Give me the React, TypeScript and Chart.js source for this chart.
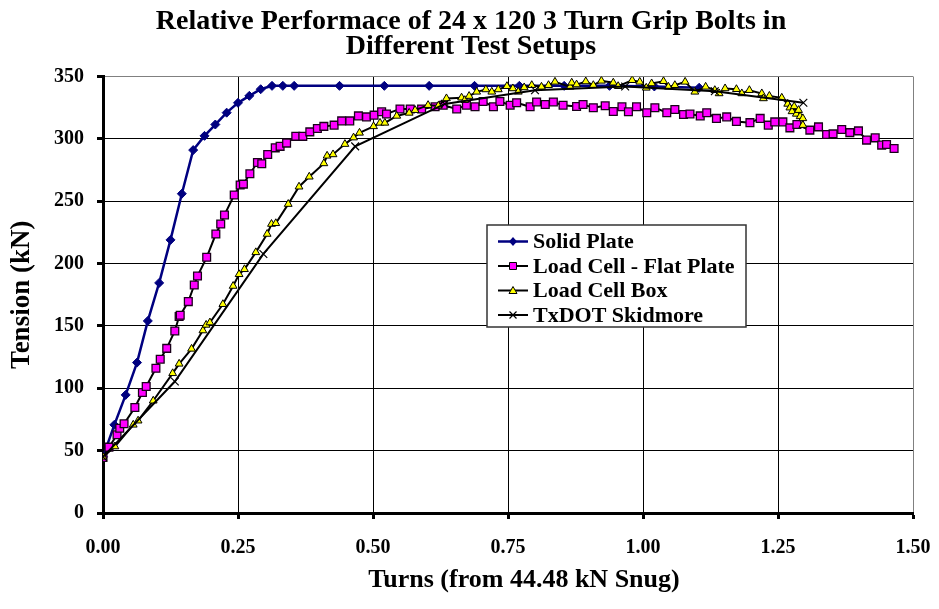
import React, { useEffect, useRef } from "react";
import { Chart, registerables } from "chart.js";

Chart.register(...registerables);

const FONT = "'Liberation Serif', 'Times New Roman', serif";

const chartTitle = [
  "Relative Performace of 24 x 120 3 Turn Grip Bolts in",
  "Different Test Setups",
];
const xAxisTitle = "Turns (from 44.48 kN Snug)";
const yAxisTitle = "Tension (kN)";

const seriesNames = [
  "Solid Plate",
  "Load Cell - Flat Plate",
  "Load Cell Box",
  "TxDOT Skidmore",
];

// Solid Plate
const solidTurns = [
  0, 0.021, 0.042, 0.063, 0.083, 0.104, 0.125, 0.146, 0.167, 0.188, 0.208,
  0.229, 0.25, 0.271, 0.292, 0.313, 0.333, 0.354, 0.438, 0.521, 0.604, 0.688,
  0.771, 0.854, 0.938, 1.021, 1.104,
];
const solidTension = [
  45, 70.7, 94.7, 120.6, 154, 184.5, 219, 256, 291, 302.4, 311.5, 321, 328.9,
  334.5, 339.8, 342.5, 342.5, 342.5, 342.5, 342.5, 342.5, 342.5, 342.5, 342.5,
  342.5, 342, 341,
];

// Load Cell - Flat Plate
const flatTurns = [
  0, 0.011, 0.026, 0.031, 0.039, 0.059, 0.073, 0.08, 0.098, 0.106, 0.118,
  0.133, 0.141, 0.143, 0.158, 0.169, 0.175, 0.192, 0.209, 0.218, 0.225, 0.243,
  0.254, 0.26, 0.272, 0.286, 0.294, 0.305, 0.319, 0.328, 0.34, 0.357, 0.37,
  0.383, 0.397, 0.409, 0.428, 0.442, 0.457, 0.473, 0.488, 0.502, 0.516, 0.525,
  0.55, 0.569, 0.59, 0.615, 0.63, 0.655, 0.673, 0.689, 0.704, 0.723, 0.735,
  0.754, 0.766, 0.791, 0.803, 0.819, 0.834, 0.852, 0.877, 0.889, 0.908, 0.93,
  0.945, 0.961, 0.973, 0.988, 1.007, 1.022, 1.044, 1.059, 1.075, 1.087, 1.106,
  1.118, 1.136, 1.155, 1.173, 1.198, 1.217, 1.232, 1.244, 1.259, 1.272, 1.285,
  1.309, 1.325, 1.34, 1.352, 1.368, 1.383, 1.399, 1.414, 1.43, 1.442, 1.451,
  1.465,
];
const flatTension = [
  44.5, 52.8, 62.7, 68, 71.5, 84.6, 96.6, 101.4, 116, 123.3, 132, 146, 157.5,
  158.5, 169.5, 182.8, 190, 205, 223.7, 231.7, 239, 255, 263, 263.7, 272, 281,
  280, 287.5, 292.8, 294, 296.6, 302, 302, 305.6, 308.3, 310, 311, 314.4, 314.4,
  318.4, 317.6, 319, 321.7, 320, 324, 324, 324, 325.7, 327, 324, 327, 325.7,
  330, 325.7, 330, 327, 329, 325.7, 329.6, 327.5, 329.6, 327, 326, 327.5, 325,
  326.5, 322, 325.7, 321.7, 325.7, 321, 325, 321, 323.5, 319.5, 320, 318.4,
  321, 316.4, 317.6, 314, 313, 316.4, 311, 313.6, 313.6, 308.8, 311.5, 307,
  309.6, 303.5, 304, 307.5, 305, 306.4, 299, 300.8, 295, 295.5, 292.3,
];

// Load Cell Box
const boxTurns = [
  0, 0.022, 0.056, 0.065, 0.093, 0.129, 0.141, 0.164, 0.185, 0.191, 0.198,
  0.222, 0.241, 0.252, 0.262, 0.283, 0.304, 0.312, 0.32, 0.343, 0.363, 0.382,
  0.409, 0.415, 0.426, 0.448, 0.464, 0.475, 0.501, 0.513, 0.522, 0.544, 0.567,
  0.578, 0.602, 0.621, 0.636, 0.664, 0.67, 0.678, 0.692, 0.709, 0.72, 0.732,
  0.748, 0.759, 0.769, 0.78, 0.794, 0.812, 0.825, 0.837, 0.865, 0.868, 0.877,
  0.894, 0.908, 0.923, 0.945, 0.954, 0.98, 0.994, 1.006, 1.016, 1.038, 1.047,
  1.059, 1.078, 1.096, 1.116, 1.133, 1.141, 1.152, 1.173, 1.183, 1.197, 1.22,
  1.223, 1.234, 1.257, 1.268, 1.272, 1.276, 1.28, 1.284, 1.288, 1.291, 1.296,
  1.296,
];
const boxTension = [
  45, 53.3, 70.7, 74, 90, 112, 119.6, 131.6, 146.3, 150.8, 152.7, 167.4, 182,
  191.4, 195.4, 209, 223.7, 231.7, 232.3, 247.7, 261.6, 269.6, 280.3, 286.4,
  287.5, 295.8, 301, 304.8, 310, 312.8, 312.8, 318.4, 320.8, 323, 327, 326.5,
  332.4, 333, 331, 334.3, 337.7, 339.6, 337.7, 339.6, 342.2, 340.4, 337.7,
  341.2, 343, 341.7, 343, 345.7, 341.7, 345, 343.5, 346, 343, 346.5, 345,
  342.2, 347, 345.7, 340.9, 344.4, 346.2, 341.7, 343, 345.7, 337.7, 341.7, 339,
  336.4, 340.4, 339.8, 336.4, 339, 336.4, 332.4, 334.4, 332.9, 328, 325, 322,
  326, 320, 323, 318, 316.4, 311,
];

// TxDOT Skidmore
const skidTurns = [0, 0.133, 0.297, 0.467, 0.633, 0.8, 0.967, 1.133, 1.297];
const skidTension = [45, 105.4, 207.7, 294, 328, 339, 342, 338.2, 329];

const xTicks = [0, 0.25, 0.5, 0.75, 1.0, 1.25, 1.5];
const yTicks = [0, 50, 100, 150, 200, 250, 300, 350];

const NAVY = "#000080";
const MAGENTA = "#FF00FF";
const YELLOW = "#FFFF00";

const toPoints = (xs: number[], ys: number[]) =>
  xs.map((x, i) => ({ x, y: ys[i] }));

type Marker = "diamond" | "square" | "triangle" | "cross";

const legendStyles: { line: string; lineWidth: number; marker: Marker }[] = [
  { line: NAVY, lineWidth: 2.5, marker: "diamond" },
  { line: "#000", lineWidth: 2, marker: "square" },
  { line: "#000", lineWidth: 2, marker: "triangle" },
  { line: "#000", lineWidth: 2, marker: "cross" },
];

function drawMarker(ctx: CanvasRenderingContext2D, m: Marker, x: number, y: number) {
  ctx.save();
  ctx.beginPath();
  if (m === "diamond") {
    ctx.moveTo(x, y - 4.5);
    ctx.lineTo(x + 4, y);
    ctx.lineTo(x, y + 4.5);
    ctx.lineTo(x - 4, y);
    ctx.closePath();
    ctx.fillStyle = NAVY;
    ctx.fill();
  } else if (m === "square") {
    ctx.rect(x - 3.5, y - 3.5, 7, 7);
    ctx.fillStyle = MAGENTA;
    ctx.fill();
    ctx.lineWidth = 1;
    ctx.strokeStyle = "#000";
    ctx.stroke();
  } else if (m === "triangle") {
    ctx.moveTo(x, y - 4);
    ctx.lineTo(x + 4, y + 3);
    ctx.lineTo(x - 4, y + 3);
    ctx.closePath();
    ctx.fillStyle = YELLOW;
    ctx.fill();
    ctx.lineWidth = 1;
    ctx.strokeStyle = "#000";
    ctx.stroke();
  } else {
    ctx.moveTo(x - 3.5, y - 3.5);
    ctx.lineTo(x + 3.5, y + 3.5);
    ctx.moveTo(x + 3.5, y - 3.5);
    ctx.lineTo(x - 3.5, y + 3.5);
    ctx.lineWidth = 1.2;
    ctx.strokeStyle = "#000";
    ctx.stroke();
  }
  ctx.restore();
}

// Chart title and axis titles, placed relative to the plot area
const chartTexts = {
  id: "chartTexts",
  afterDraw(chart: Chart) {
    const { ctx, chartArea } = chart;
    ctx.save();
    ctx.fillStyle = "#000";
    ctx.textAlign = "center";
    ctx.textBaseline = "middle";

    ctx.font = `bold 28px ${FONT}`;
    const titleX = chartArea.left + 368;
    chartTitle.forEach((line, i) => {
      ctx.fillText(line, titleX, 22 + i * 25);
    });

    ctx.font = `bold 26px ${FONT}`;
    ctx.fillText(xAxisTitle, chartArea.left + 421, chartArea.bottom + 67);

    ctx.font = `bold 27px ${FONT}`;
    ctx.translate(22, (chartArea.top + chartArea.bottom) / 2);
    ctx.rotate(-Math.PI / 2);
    ctx.fillText(yAxisTitle, 0, 0);
    ctx.restore();
  },
};

// Boxed legend placed inside the plot area
const insetLegend = {
  id: "insetLegend",
  afterDraw(chart: Chart) {
    const { ctx, chartArea } = chart;
    const bx = chartArea.left + 384;
    const by = chartArea.top + 148.5;
    const bw = 259;
    const bh = 102;
    ctx.save();
    ctx.fillStyle = "#fff";
    ctx.fillRect(bx, by, bw, bh);
    ctx.lineWidth = 1.5;
    ctx.strokeStyle = "#333";
    ctx.strokeRect(bx, by, bw, bh);
    ctx.font = `bold 22px ${FONT}`;
    ctx.textBaseline = "middle";
    ctx.textAlign = "left";
    seriesNames.forEach((name, i) => {
      const y = by + 16.5 + i * 24.5;
      const st = legendStyles[i];
      ctx.beginPath();
      ctx.moveTo(bx + 11, y);
      ctx.lineTo(bx + 41, y);
      ctx.lineWidth = st.lineWidth;
      ctx.strokeStyle = st.line;
      ctx.stroke();
      drawMarker(ctx, st.marker, bx + 26, y);
      ctx.fillStyle = "#000";
      ctx.fillText(name, bx + 46, y + 1);
    });
    ctx.restore();
  },
};

export default function App() {
  const canvasRef = useRef<HTMLCanvasElement | null>(null);

  useEffect(() => {
    const canvas = canvasRef.current;
    if (!canvas) return;

    const gridColor = (ctx: any, last: number) =>
      ctx.tick && ctx.tick.value === last ? "#808080" : "#000";

    const chart = new Chart(canvas, {
      type: "scatter",
      data: {
        datasets: [
          {
            label: seriesNames[0],
            data: toPoints(solidTurns, solidTension),
            showLine: true,
            borderColor: NAVY,
            backgroundColor: NAVY,
            borderWidth: 2.5,
            pointStyle: "rectRot",
            pointRadius: 4.5,
            pointBorderColor: NAVY,
            pointBackgroundColor: NAVY,
            pointBorderWidth: 1,
            order: 4,
          },
          {
            label: seriesNames[1],
            data: toPoints(flatTurns, flatTension),
            showLine: true,
            borderColor: "#000",
            borderWidth: 2,
            pointStyle: "rect",
            pointRadius: 5.5,
            pointBackgroundColor: MAGENTA,
            pointBorderColor: "#1a001a",
            pointBorderWidth: 1.3,
            order: 3,
          },
          {
            label: seriesNames[2],
            data: toPoints(boxTurns, boxTension),
            showLine: true,
            borderColor: "#000",
            borderWidth: 2,
            pointStyle: "triangle",
            pointRadius: 4.5,
            pointBackgroundColor: YELLOW,
            pointBorderColor: "#000",
            pointBorderWidth: 1,
            order: 2,
          },
          {
            label: seriesNames[3],
            data: toPoints(skidTurns, skidTension),
            showLine: true,
            borderColor: "#000",
            borderWidth: 2,
            pointStyle: "crossRot",
            pointRadius: 5.5,
            pointBorderColor: "#000",
            pointBorderWidth: 1.2,
            order: 1,
          },
        ],
      },
      options: {
        responsive: false,
        animation: false,
        events: [],
        layout: { padding: { left: 0, right: 26, top: 76.5, bottom: 0 } },
        plugins: {
          legend: { display: false },
          tooltip: { enabled: false },
          title: { display: false },
        },
        scales: {
          x: {
            type: "linear",
            min: 0,
            max: 1.5,
            afterBuildTicks: (scale: any) => {
              scale.ticks = xTicks.map((v) => ({ value: v }));
            },
            afterFit: (scale: any) => {
              scale.height = 96;
              scale.paddingLeft = 0;
              scale.paddingRight = 0;
            },
            ticks: {
              color: "#000",
              font: { family: FONT, size: 20, weight: "bold" },
              padding: 17,
              maxRotation: 0,
              callback: (v: any) => Number(v).toFixed(2),
            },
            grid: {
              color: (ctx: any) => gridColor(ctx, 1.5),
              lineWidth: 1,
              drawTicks: true,
              tickLength: 6,
              tickWidth: 3,
              tickColor: "#000",
            },
            border: { display: true, color: "#000", width: 3 },
          },
          y: {
            type: "linear",
            min: 0,
            max: 350,
            afterBuildTicks: (scale: any) => {
              scale.ticks = yTicks.map((v) => ({ value: v }));
            },
            afterFit: (scale: any) => {
              scale.width = 103;
              scale.paddingTop = 0;
              scale.paddingBottom = 0;
            },
            ticks: {
              color: "#000",
              font: { family: FONT, size: 20, weight: "bold" },
              padding: 13,
            },
            grid: {
              color: (ctx: any) => gridColor(ctx, 350),
              lineWidth: 1,
              drawTicks: true,
              tickLength: 6,
              tickWidth: 3,
              tickColor: "#000",
            },
            border: { display: true, color: "#000", width: 3 },
          },
        },
      },
      plugins: [chartTexts, insetLegend],
    });

    return () => chart.destroy();
  }, []);

  return (
    <div
      style={{
        position: "fixed",
        left: 0,
        top: 0,
        width: 939,
        height: 609,
        background: "#fff",
      }}
    >
      <canvas ref={canvasRef} width={939} height={609} />
    </div>
  );
}
